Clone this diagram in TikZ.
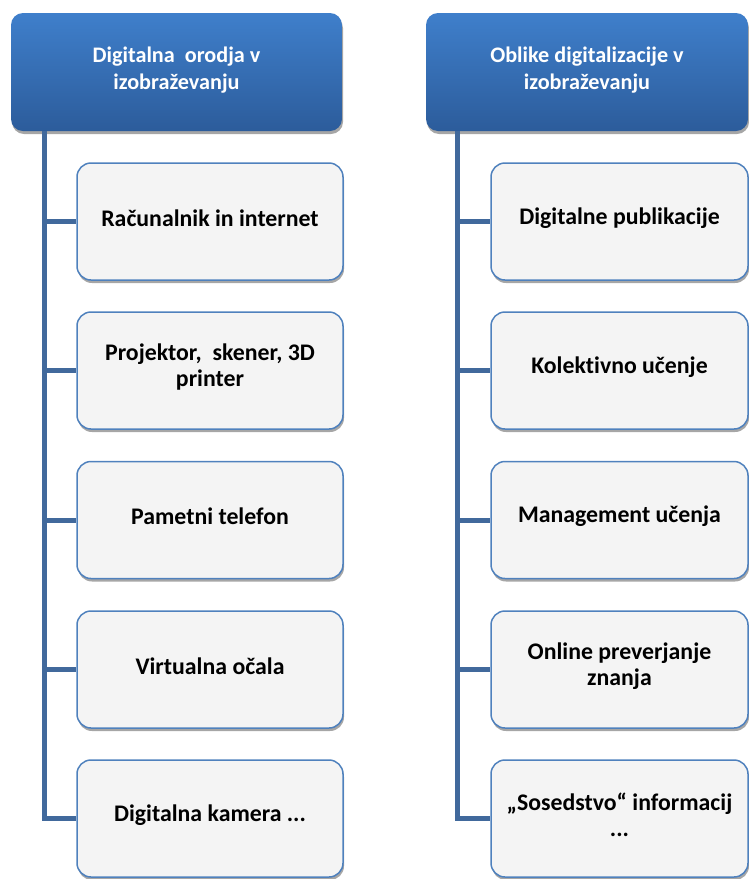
\documentclass[tikz,border=0pt]{standalone}
\usepackage{fontspec}
\setmainfont{Carlito}[Ligatures=NoCommon]
\usetikzlibrary{shadows}
\definecolor{hdtop}{HTML}{3F7FCB}
\definecolor{hdbot}{HTML}{2C5C9B}
\definecolor{connc}{HTML}{41699C}
\definecolor{bxborder}{HTML}{4F81BD}
\definecolor{bxfill}{HTML}{F4F4F4}
\definecolor{shadowc}{HTML}{A6A6A6}
\begin{document}
\begin{tikzpicture}[x=1pt,y=-1pt,
  header/.style={rounded corners=12pt, minimum height=118pt, inner sep=0pt,
    top color=hdtop, bottom color=hdbot,
    drop shadow={shadow xshift=1pt, shadow yshift=-3pt, fill=shadowc, opacity=1}},
  htext/.style={text=white, font=\bfseries\fontsize{22.2}{27}\selectfont, align=center, inner sep=0pt},
  child/.style={rounded corners=14pt, minimum height=117pt, inner sep=0pt,
    draw=bxborder, line width=1.5pt, fill=bxfill,
    drop shadow={shadow xshift=1pt, shadow yshift=-3pt, fill=shadowc, opacity=1}},
  ctext/.style={text=black, font=\bfseries\fontsize{23.8}{26}\selectfont, align=center, inner sep=0pt},
  conn/.style={draw=connc, line width=5pt}
]
\useasboundingbox (0,0) rectangle (749,879);

% headers
\node[header, minimum width=331pt] (h1) at (176.5,72) {};
\node[htext] (h1t) at ([yshift=2pt]h1.center) {Digitalna~ orodja v\\izobraževanju};
\node[header, minimum width=322pt] (h2) at (587,72) {};
\node[htext] (h2t) at ([yshift=2pt]h2.center) {Oblike digitalizacije v\\izobraževanju};

% left children
\node[child, minimum width=266pt] (l1) at (210,221.5) {};
\node[child, minimum width=266pt] (l2) at (210,370.5) {};
\node[child, minimum width=266pt] (l3) at (210,520) {};
\node[child, minimum width=266pt] (l4) at (210,669.5) {};
\node[child, minimum width=266pt] (l5) at (210,818.5) {};
\node[ctext] (l1t) at ([yshift=3.5pt]l1.center) {Računalnik in internet};
\node[ctext] (l2t) at ([yshift=3.5pt]l2.center) {Projektor,~ skener, 3D\\printer};
\node[ctext] (l3t) at ([yshift=3.5pt]l3.center) {Pametni telefon};
\node[ctext] (l4t) at ([yshift=3.5pt]l4.center) {Virtualna očala};
\node[ctext] (l5t) at ([yshift=3.5pt]l5.center) {Digitalna kamera ...};

% right children
\node[child, minimum width=257pt] (r1) at (619.5,221.5) {};
\node[child, minimum width=257pt] (r2) at (619.5,370.5) {};
\node[child, minimum width=257pt] (r3) at (619.5,520) {};
\node[child, minimum width=257pt] (r4) at (619.5,669.5) {};
\node[child, minimum width=257pt] (r5) at (619.5,818.5) {};
\node[ctext] (r1t) at ([yshift=3.5pt]r1.center) {Digitalne publikacije};
\node[ctext] (r2t) at ([yshift=3.5pt]r2.center) {Kolektivno učenje};
\node[ctext] (r3t) at ([yshift=3.5pt]r3.center) {Management učenja};
\node[ctext] (r4t) at ([yshift=3.5pt]r4.center) {Online preverjanje\\znanja};
\node[ctext] (r5t) at ([yshift=3.5pt]r5.center) {„Sosedstvo“ informacij\\...};

% trunks
\coordinate (s1) at ([xshift=33.5pt]h1.south west);
\coordinate (s2) at ([xshift=32pt]h2.south west);
\draw[conn] (s1) |- (l5.west);
\foreach \i in {1,2,3,4} { \draw[conn] (l\i.west -| s1) -- (l\i.west); }
\draw[conn] (s2) |- (r5.west);
\foreach \i in {1,2,3,4} { \draw[conn] (r\i.west -| s2) -- (r\i.west); }
\end{tikzpicture}
\end{document}
